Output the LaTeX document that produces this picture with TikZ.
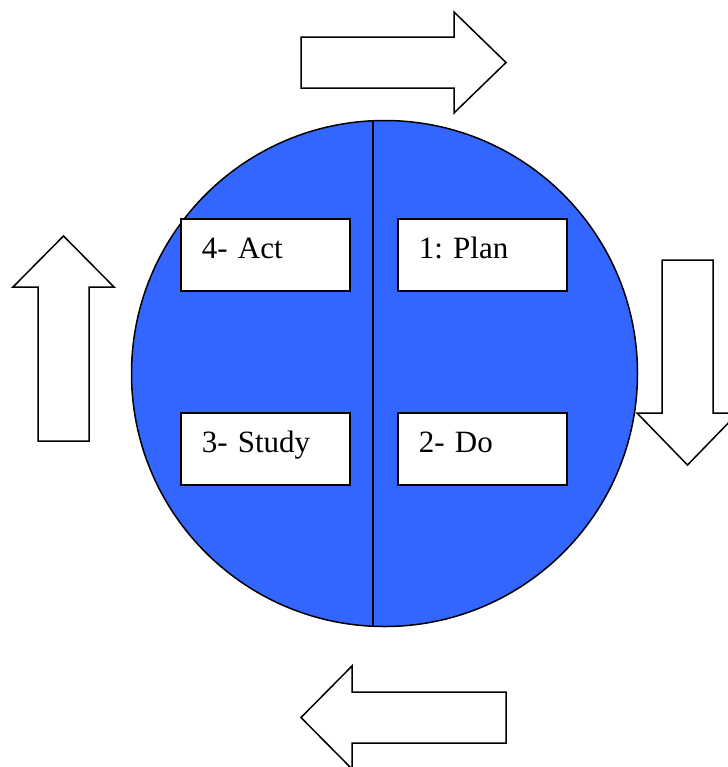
\documentclass[tikz,border=0pt]{standalone}
\usepackage{fontspec}
\setmainfont{Liberation Serif}
\definecolor{pdsablue}{RGB}{51,102,255}
\frenchspacing

\begin{document}
\begin{tikzpicture}[x=0.5pt,y=-0.5pt,
    every node/.style={line width=0.75pt},
    stepbox/.style={draw,fill=white,anchor=north west,align=left,
      text width=63.5pt,inner xsep=10.5pt,inner ysep=0pt,minimum height=36pt,
      text height=10pt,text depth=6pt,font=\fontsize{15.5}{18}\selectfont},
    bigarrow/.style={draw,fill=white,line width=0.75pt,line join=miter}]
    \useasboundingbox (0,0) rectangle (728,767);
    \clip (0,0) rectangle (728,767);

    % the circle and its divider
    \node (circ) at (384.5,373.5) [circle,draw,fill=pdsablue,inner sep=0pt,minimum size=253pt] {};
    \coordinate (mid) at (373,0);
    \draw[line width=0.75pt] (circ.north -| mid) -- (circ.south -| mid);

    % the four steps
    \node (act) at (180,218) [stepbox] {4- Act};
    \node (plan) at (397,218) [stepbox] {1: Plan};
    \node (study) at (180,412) [stepbox] {3- Study};
    \node (do) at (397,412) [stepbox] {2- Do};

    % arrows round the circle
    \draw[bigarrow] (301,37) -- (454,37) -- (454,12) -- (506,62.5) -- (454,113) -- (454,88) -- (301,88) -- cycle;
    \draw[bigarrow] (662,260) -- (713,260) -- (713,413) -- (738,413) -- (687.5,465) -- (637,413) -- (662,413) -- cycle;
    \draw[bigarrow] (506,692) -- (352,692) -- (352,666) -- (301,717.5) -- (352,769) -- (352,743) -- (506,743) -- cycle;
    \draw[bigarrow] (38,441) -- (38,287) -- (13,287) -- (63.5,236) -- (114,287) -- (89,287) -- (89,441) -- cycle;
  \end{tikzpicture}
\end{document}
